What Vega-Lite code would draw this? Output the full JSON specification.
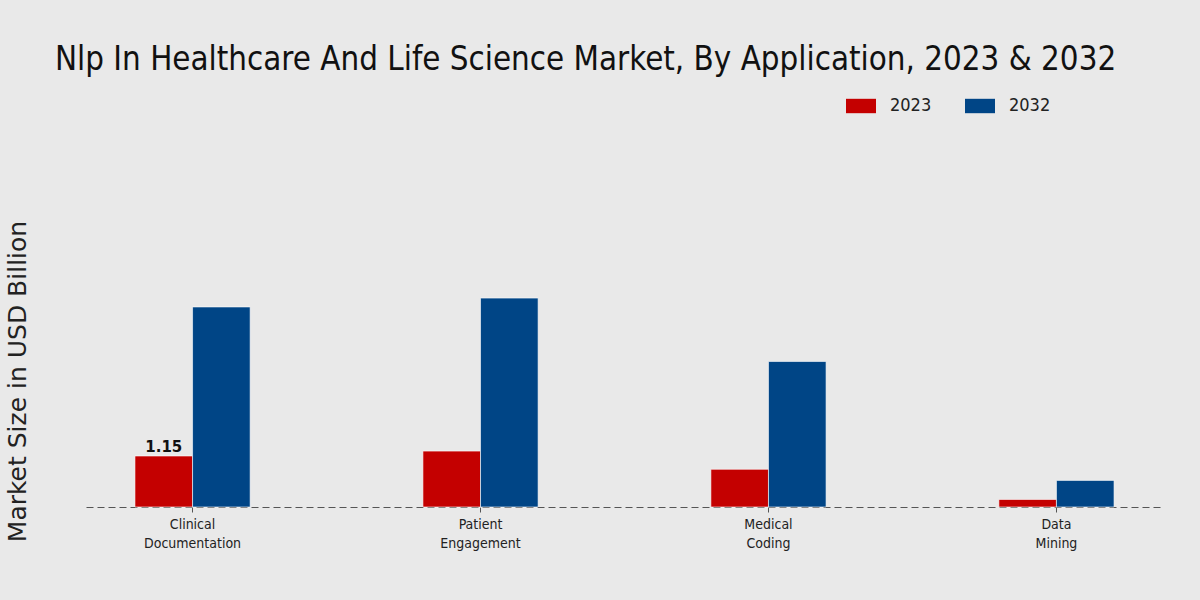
{
  "$schema": "https://vega.github.io/schema/vega-lite/v6.json",
  "autosize": "none",
  "width": 1077,
  "height": 377,
  "padding": {"left": 86, "top": 130, "right": 37, "bottom": 93},
  "background": "#e9e9e9",
  "view": {"stroke": null},
  "title": {
    "text": "Nlp In Healthcare And Life Science Market, By Application, 2023 & 2032",
    "anchor": "start",
    "frame": "group",
    "dx": -31,
    "offset": 14,
    "font": "DejaVu Sans Condensed",
    "fontSize": 32.8,
    "fontWeight": "normal",
    "color": "#111111"
  },
  "data": {
    "values": [
      {"application": "Clinical Documentation", "year": "2023", "value": 1.15},
      {"application": "Clinical Documentation", "year": "2032", "value": 4.51},
      {"application": "Patient Engagement", "year": "2023", "value": 1.26},
      {"application": "Patient Engagement", "year": "2032", "value": 4.71},
      {"application": "Medical Coding", "year": "2023", "value": 0.85},
      {"application": "Medical Coding", "year": "2032", "value": 3.28},
      {"application": "Data Mining", "year": "2023", "value": 0.17},
      {"application": "Data Mining", "year": "2032", "value": 0.6}
    ]
  },
  "encoding": {
    "x": {
      "field": "application",
      "type": "nominal",
      "sort": null,
      "scale": {"paddingInner": 0.6, "paddingOuter": 0.17},
      "axis": {
        "title": null,
        "labelAngle": 0,
        "labelExpr": "split(datum.label, ' ')",
        "labelFont": "DejaVu Sans Condensed",
        "labelFontSize": 14,
        "labelColor": "#222222",
        "labelLineHeight": 19,
        "labelPadding": 5,
        "domainColor": "#555555",
        "domainDash": [7, 4],
        "domainWidth": 1.2,
        "tickColor": "#555555",
        "tickSize": 5,
        "grid": false
      }
    },
    "xOffset": {"field": "year", "type": "nominal", "scale": {"paddingInner": 0, "paddingOuter": 0}},
    "y": {
      "field": "value",
      "type": "quantitative",
      "scale": {"domain": [0, 8.5]},
      "axis": {
        "title": "Market Size in USD Billion",
        "titleFont": "DejaVu Sans",
        "titleFontSize": 25,
        "titleFontWeight": "normal",
        "titleColor": "#222222",
        "titlePadding": 56,
        "titleY": 251,
        "labels": false,
        "ticks": false,
        "domain": false,
        "grid": false
      }
    }
  },
  "layer": [
    {
      "mark": {"type": "bar", "stroke": "#ffffff", "strokeWidth": 0.6},
      "encoding": {
        "color": {
          "field": "year",
          "type": "nominal",
          "scale": {"domain": ["2023", "2032"], "range": ["#c40000", "#004586"]},
          "legend": {
            "title": null,
            "orient": "none",
            "direction": "horizontal",
            "legendX": 760,
            "legendY": -39,
            "symbolType": "M-1,-0.48H1V0.48H-1Z",
            "symbolSize": 900,
            "symbolStrokeWidth": 0,
            "symbolOpacity": 1,
            "labelFont": "DejaVu Sans Condensed",
            "labelFontSize": 18,
            "labelColor": "#222222",
            "labelOffset": 14,
            "columnPadding": 33
          }
        }
      }
    },
    {
      "transform": [{"filter": "datum.application === 'Clinical Documentation' && datum.year === '2023'"}],
      "mark": {"type": "text", "baseline": "bottom", "dy": -1, "font": "DejaVu Sans", "fontWeight": "bold", "fontSize": 15, "color": "#111111"},
      "encoding": {"text": {"field": "value", "type": "quantitative", "format": ".2f"}}
    }
  ]
}
